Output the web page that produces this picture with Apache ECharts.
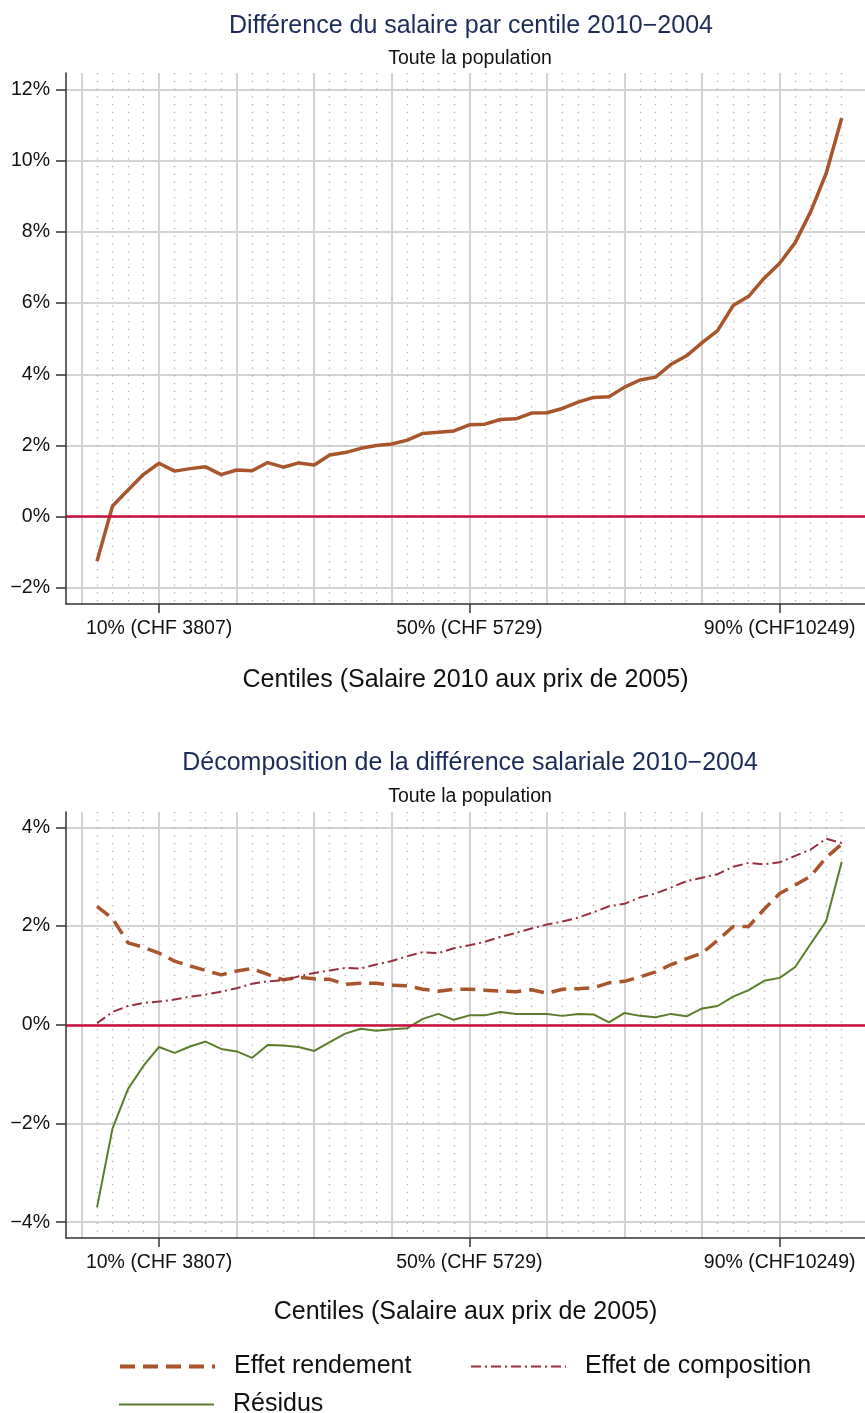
<!DOCTYPE html>
<html>
<head>
<meta charset="utf-8">
<title>Différence du salaire par centile 2010-2004</title>
<script src="https://cdn.jsdelivr.net/npm/echarts@6/dist/echarts.min.js"></script>
<style>
  html, body { margin: 0; padding: 0; background: #fff; }
  #chart { width: 865px; height: 1413px; }
</style>
</head>
<body>
<div id="chart"></div>
<script>
  // centiles (un point tous les 2 centiles)
  var centiles = [2, 4, 6, 8, 10, 12, 14, 16, 18, 20, 22, 24, 26, 28, 30, 32, 34, 36, 38, 40,
    42, 44, 46, 48, 50, 52, 54, 56, 58, 60, 62, 64, 66, 68, 70, 72, 74, 76, 78, 80,
    82, 84, 86, 88, 90, 92, 94, 96, 98];

  // graphique du haut : différence du salaire (%)
  var diffSalaire = [-1.25, 0.30, 0.75, 1.19, 1.50, 1.28, 1.35, 1.40, 1.18, 1.31, 1.29, 1.52, 1.39, 1.51, 1.45,
    1.73, 1.80, 1.92, 2.00, 2.04, 2.15, 2.34, 2.37, 2.41, 2.58, 2.60, 2.73, 2.75, 2.91, 2.92,
    3.04, 3.22, 3.35, 3.37, 3.64, 3.84, 3.92, 4.28, 4.52, 4.89, 5.23, 5.93, 6.19, 6.70, 7.12,
    7.70, 8.57, 9.65, 11.20];

  // graphique du bas : décomposition (%)
  var effetRendement = [2.40, 2.15, 1.66, 1.57, 1.45, 1.29, 1.19, 1.10, 1.01, 1.09, 1.14, 1.02, 0.91, 0.96, 0.93,
    0.92, 0.82, 0.84, 0.84, 0.80, 0.79, 0.72, 0.68, 0.72, 0.72, 0.70, 0.68, 0.67, 0.71, 0.64,
    0.72, 0.73, 0.75, 0.85, 0.88, 0.97, 1.07, 1.22, 1.34, 1.45, 1.71, 1.99, 1.99, 2.34, 2.66,
    2.83, 3.01, 3.39, 3.66];
  var effetComposition = [0.03, 0.26, 0.38, 0.44, 0.47, 0.51, 0.57, 0.61, 0.67, 0.74, 0.83, 0.88, 0.90, 0.98, 1.05,
    1.10, 1.15, 1.14, 1.22, 1.29, 1.39, 1.47, 1.45, 1.55, 1.61, 1.68, 1.78, 1.86, 1.95, 2.03,
    2.09, 2.17, 2.28, 2.40, 2.45, 2.58, 2.66, 2.78, 2.91, 2.98, 3.05, 3.20, 3.28, 3.25, 3.29,
    3.42, 3.55, 3.77, 3.68];
  var residus = [-3.70, -2.10, -1.30, -0.83, -0.45, -0.57, -0.44, -0.34, -0.49, -0.54, -0.67, -0.41, -0.42, -0.45, -0.53,
    -0.35, -0.18, -0.08, -0.12, -0.09, -0.07, 0.12, 0.22, 0.10, 0.19, 0.19, 0.26, 0.22, 0.22, 0.22,
    0.18, 0.22, 0.21, 0.05, 0.24, 0.18, 0.15, 0.22, 0.17, 0.33, 0.38, 0.57, 0.70, 0.89, 0.95,
    1.17, 1.64, 2.10, 3.30];

  // axes
  var xTickValues = [10, 50, 90];
  var xTickLabels = ['10% (CHF 3807)', '50% (CHF 5729)', '90% (CHF10249)'];
  var xGrille = [0, 10, 20, 30, 40, 50, 60, 70, 80, 90];
  var yTicksHaut = [-2, 0, 2, 4, 6, 8, 10, 12];
  var yTicksBas = [-4, -2, 0, 2, 4];

  var FONT = '"Liberation Sans", Arial, Helvetica, sans-serif';
  var AXE = { color: '#333', width: 1.5 };
  var GRILLE = { color: '#d3d3d3', width: 2 };
  var POINTS = { color: '#b0b0b0', width: 1.3, type: [1.3, 6.45] };

  function zip(xs, ys) {
    return xs.map(function (x, i) { return [x, ys[i]]; });
  }
  function pct(v) {
    return (v < 0 ? '\u2212' + (-v) : v) + '%';
  }

  // axe visible : ligne, graduations et libellés
  function axeX(grid, nom, gap) {
    return {
      type: 'value', gridIndex: grid, min: -2, max: 101, position: 'bottom',
      name: nom, nameLocation: 'middle', nameGap: gap,
      nameTextStyle: { fontSize: 25, color: '#111', fontFamily: FONT },
      axisLine: { show: true, onZero: false, lineStyle: AXE },
      axisTick: { show: true, customValues: xTickValues, length: 9, lineStyle: AXE },
      axisLabel: {
        customValues: xTickValues, margin: 15, fontSize: 19.5, color: '#111', fontFamily: FONT,
        formatter: function (v) { return xTickLabels[xTickValues.indexOf(v)]; }
      },
      splitLine: { show: false }
    };
  }
  // grille verticale : lignes pleines ou pointillées aux valeurs données
  function axeGrille(grid, vals, style) {
    return {
      type: 'value', gridIndex: grid, min: -2, max: 101, position: 'bottom',
      axisLine: { show: false }, axisLabel: { show: false },
      axisTick: { show: false, customValues: vals },
      splitLine: { show: true, lineStyle: style }
    };
  }

  function axeY(grid, min, max, ticks) {
    return {
      type: 'value', gridIndex: grid, min: min, max: max,
      axisLine: { show: true, onZero: false, lineStyle: AXE },
      axisTick: { show: true, customValues: ticks, length: 10, lineStyle: AXE },
      axisLabel: { customValues: ticks, formatter: pct, margin: 16, fontSize: 19.5, color: '#111', fontFamily: FONT },
      splitLine: { show: true, lineStyle: GRILLE }
    };
  }
  var zero = {
    silent: true, symbol: ['none', 'none'], label: { show: false },
    lineStyle: { color: '#c8103c', width: 2.5, type: 'solid' },
    data: [{ yAxis: 0 }]
  };

  function legende(nom, left, top, largeur) {
    return {
      data: [{ name: nom, lineStyle: { width: largeur } }],
      left: left, top: top, padding: 0,
      itemWidth: 95, itemHeight: 14, selectedMode: false,
      itemStyle: { opacity: 0 },
      textStyle: { fontSize: 25, color: '#111', fontFamily: FONT, padding: [0, 0, 0, 14] }
    };
  }

  var chart = echarts.init(document.getElementById('chart'));
  chart.setOption({
    animation: false,
    backgroundColor: '#fff',
    textStyle: { fontFamily: FONT },
    title: [
      { text: 'Différence du salaire par centile 2010\u22122004', left: 471, top: 14, textAlign: 'center', padding: 0,
        textStyle: { fontSize: 25, fontWeight: 'normal', color: '#1c2b5a', fontFamily: FONT } },
      { text: 'Toute la population', left: 470, top: 49, textAlign: 'center', padding: 0,
        textStyle: { fontSize: 19.5, fontWeight: 'normal', color: '#111', fontFamily: FONT } },
      { text: 'Décomposition de la différence salariale 2010\u22122004', left: 470, top: 751, textAlign: 'center', padding: 0,
        textStyle: { fontSize: 25, fontWeight: 'normal', color: '#1c2b5a', fontFamily: FONT } },
      { text: 'Toute la population', left: 470, top: 787, textAlign: 'center', padding: 0,
        textStyle: { fontSize: 19.5, fontWeight: 'normal', color: '#111', fontFamily: FONT } }
    ],
    legend: [
      legende('Effet rendement', 118, 1354, 4),
      legende('Effet de composition', 470, 1354, 2),
      legende('Résidus', 118, 1392, 2)
    ],
    grid: [
      { left: 66, right: 0, top: 73, height: 531 },
      { left: 66, right: 0, top: 812, height: 426 }
    ],
    xAxis: [
      axeX(0, 'Centiles (Salaire 2010 aux prix de 2005)', 64),
      axeGrille(0, centiles, POINTS),
      axeGrille(0, xGrille, GRILLE),
      axeX(1, 'Centiles (Salaire aux prix de 2005)', 62),
      axeGrille(1, centiles, POINTS),
      axeGrille(1, xGrille, GRILLE)
    ],
    yAxis: [
      axeY(0, -2.454, 12.466, yTicksHaut),
      axeY(1, -4.32, 4.31, yTicksBas)
    ],
    series: [
      { name: 'Différence', type: 'line', xAxisIndex: 0, yAxisIndex: 0, symbol: 'none',
        data: zip(centiles, diffSalaire),
        lineStyle: { color: '#a9552b', width: 3.5 }, markLine: zero },
      { name: 'Effet rendement', type: 'line', xAxisIndex: 3, yAxisIndex: 1, symbol: 'none',
        data: zip(centiles, effetRendement), color: '#a9552b',
        lineStyle: { color: '#a9552b', width: 3.5, type: [15, 8] }, markLine: zero },
      { name: 'Effet de composition', type: 'line', xAxisIndex: 3, yAxisIndex: 1, symbol: 'none',
        data: zip(centiles, effetComposition), color: '#962f3e',
        lineStyle: { color: '#962f3e', width: 2, type: [10, 4, 2, 4] } },
      { name: 'Résidus', type: 'line', xAxisIndex: 3, yAxisIndex: 1, symbol: 'none',
        data: zip(centiles, residus), color: '#5a7d2b',
        lineStyle: { color: '#5a7d2b', width: 2 } }
    ]
  });
</script>
</body>
</html>
